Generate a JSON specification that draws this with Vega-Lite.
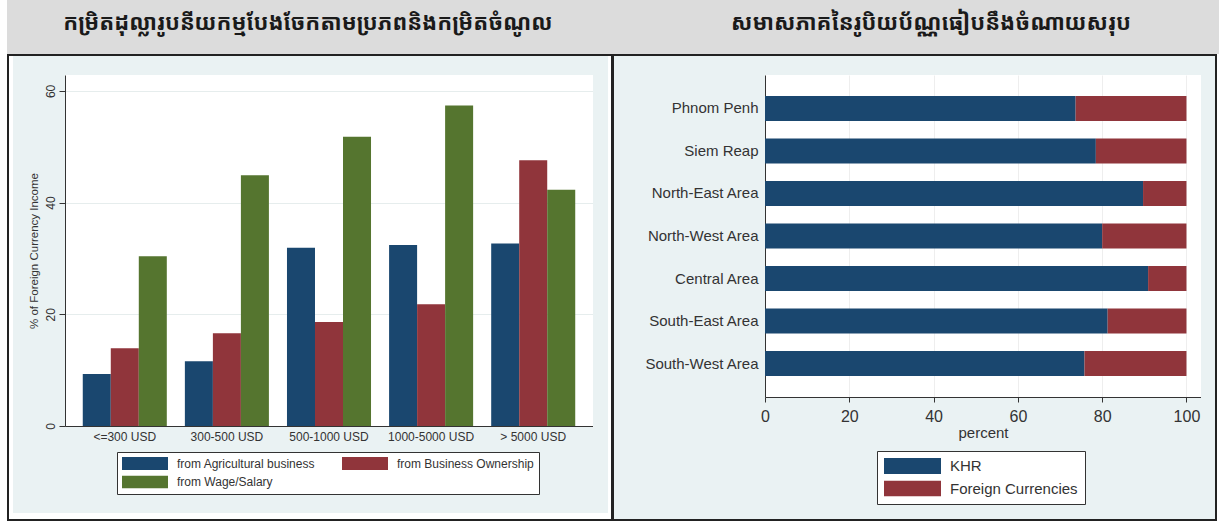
{
"$schema": "https://vega.github.io/schema/vega-lite/v6.json",
"padding": 0,
"background": "#eaf2f3",
"spacing": 0,
"bounds": "flush",
"align": "each",
"columns": 13,
"resolve": {"scale": {"x": "independent", "y": "independent", "color": "independent", "xOffset": "independent"}, "legend": {"color": "independent"}},
"config": {"view": {"stroke": null}, "font": "Liberation Sans"},
"concat": [
{"width":7,"height":54,"mark":{"type":"rule","opacity":0},"encoding":{},"view":{"fill":"#ffffff"}},
{"width":2,"height":54,"mark":{"type":"rule","opacity":0},"encoding":{},"view":{"fill":"#dcdcdc"}},
{"width":4,"height":54,"mark":{"type":"rule","opacity":0},"encoding":{},"view":{"fill":"#dcdcdc"}},
{"width":52,"height":54,"mark":{"type":"rule","opacity":0},"encoding":{},"view":{"fill":"#dcdcdc"}},
{"width":528,"height":54,"data":{"values":[{"t":"កម្រិតដុល្លារូបនីយកម្មបែងចែកតាមប្រភពនិងកម្រិតចំណូល"}]},"mark":{"type":"text","fontSize":22,"fontWeight":"bold","font":"Noto Sans Khmer, Khmer OS, Noto Sans, DejaVu Sans","color":"#1a1a1a","dx":-21,"dy":-4},"encoding":{"text":{"field":"t"}},"view":{"fill":"#dcdcdc"}},
{"width":15,"height":54,"mark":{"type":"rule","opacity":0},"encoding":{},"view":{"fill":"#dcdcdc"}},
{"width":3,"height":54,"mark":{"type":"rule","opacity":0},"encoding":{},"view":{"fill":"#dcdcdc"}},
{"width":3,"height":54,"mark":{"type":"rule","opacity":0},"encoding":{},"view":{"fill":"#dcdcdc"}},
{"width":151,"height":54,"mark":{"type":"rule","opacity":0},"encoding":{},"view":{"fill":"#dcdcdc"}},
{"width":436,"height":54,"data":{"values":[{"t":"សមាសភាគនៃរូបិយប័ណ្ណធៀបនឹងចំណាយសរុប"}]},"mark":{"type":"text","fontSize":22,"fontWeight":"bold","font":"Noto Sans Khmer, Khmer OS, Noto Sans, DejaVu Sans","color":"#1a1a1a","dx":-52,"dy":-4},"encoding":{"text":{"field":"t"}},"view":{"fill":"#dcdcdc"}},
{"width":14,"height":54,"mark":{"type":"rule","opacity":0},"encoding":{},"view":{"fill":"#dcdcdc"}},
{"width":2,"height":54,"mark":{"type":"rule","opacity":0},"encoding":{},"view":{"fill":"#dcdcdc"}},
{"width":2,"height":54,"mark":{"type":"rule","opacity":0},"encoding":{},"view":{"fill":"#dcdcdc"}},

{"width":7,"height":2,"mark":{"type":"rule","opacity":0},"encoding":{},"view":{"fill":"#ffffff"}},
{"width":2,"height":2,"mark":{"type":"rule","opacity":0},"encoding":{},"view":{"fill":"#222222"}},
{"width":4,"height":2,"mark":{"type":"rule","opacity":0},"encoding":{},"view":{"fill":"#222222"}},
{"width":52,"height":2,"mark":{"type":"rule","opacity":0},"encoding":{},"view":{"fill":"#222222"}},
{"width":528,"height":2,"mark":{"type":"rule","opacity":0},"encoding":{},"view":{"fill":"#222222"}},
{"width":15,"height":2,"mark":{"type":"rule","opacity":0},"encoding":{},"view":{"fill":"#222222"}},
{"width":3,"height":2,"mark":{"type":"rule","opacity":0},"encoding":{},"view":{"fill":"#222222"}},
{"width":3,"height":2,"mark":{"type":"rule","opacity":0},"encoding":{},"view":{"fill":"#222222"}},
{"width":151,"height":2,"mark":{"type":"rule","opacity":0},"encoding":{},"view":{"fill":"#222222"}},
{"width":436,"height":2,"mark":{"type":"rule","opacity":0},"encoding":{},"view":{"fill":"#222222"}},
{"width":14,"height":2,"mark":{"type":"rule","opacity":0},"encoding":{},"view":{"fill":"#222222"}},
{"width":2,"height":2,"mark":{"type":"rule","opacity":0},"encoding":{},"view":{"fill":"#222222"}},
{"width":2,"height":2,"mark":{"type":"rule","opacity":0},"encoding":{},"view":{"fill":"#ffffff"}},

{"width":7,"height":19,"mark":{"type":"rule","opacity":0},"encoding":{},"view":{"fill":"#ffffff"}},
{"width":2,"height":19,"mark":{"type":"rule","opacity":0},"encoding":{},"view":{"fill":"#222222"}},
{"width":4,"height":19,"mark":{"type":"rule","opacity":0},"encoding":{},"view":{"fill":"#ffffff"}},
{"width":52,"height":19,"mark":{"type":"rule","opacity":0},"encoding":{},"view":{"fill":"#eaf2f3"}},
{"width":528,"height":19,"mark":{"type":"rule","opacity":0},"encoding":{},"view":{"fill":"#eaf2f3"}},
{"width":15,"height":19,"mark":{"type":"rule","opacity":0},"encoding":{},"view":{"fill":"#eaf2f3"}},
{"width":3,"height":19,"mark":{"type":"rule","opacity":0},"encoding":{},"view":{"fill":"#ffffff"}},
{"width":3,"height":19,"mark":{"type":"rule","opacity":0},"encoding":{},"view":{"fill":"#222222"}},
{"width":151,"height":19,"mark":{"type":"rule","opacity":0},"encoding":{},"view":{"fill":"#eaf2f3"}},
{"width":436,"height":19,"mark":{"type":"rule","opacity":0},"encoding":{},"view":{"fill":"#eaf2f3"}},
{"width":14,"height":19,"mark":{"type":"rule","opacity":0},"encoding":{},"view":{"fill":"#eaf2f3"}},
{"width":2,"height":19,"mark":{"type":"rule","opacity":0},"encoding":{},"view":{"fill":"#222222"}},
{"width":2,"height":19,"mark":{"type":"rule","opacity":0},"encoding":{},"view":{"fill":"#ffffff"}},

{"width":7,"height":438,"mark":{"type":"rule","opacity":0},"encoding":{},"view":{"fill":"#ffffff"}},
{"width":2,"height":438,"mark":{"type":"rule","opacity":0},"encoding":{},"view":{"fill":"#222222"}},
{"width":4,"height":438,"mark":{"type":"rule","opacity":0},"encoding":{},"view":{"fill":"#ffffff"}},
{"width":52,"height":438,"mark":{"type":"rule","opacity":0},"encoding":{},"view":{"fill":"#eaf2f3"}},
{
 "width": 528, "height": 351,
 "view": {"fill": "#ffffff"},
 "data": {"values": [
  {"income": "<=300 USD", "source": "from Agricultural business", "pct": 9.3},
  {"income": "<=300 USD", "source": "from Business Ownership", "pct": 13.9},
  {"income": "<=300 USD", "source": "from Wage/Salary", "pct": 30.4},
  {"income": "300-500 USD", "source": "from Agricultural business", "pct": 11.6},
  {"income": "300-500 USD", "source": "from Business Ownership", "pct": 16.6},
  {"income": "300-500 USD", "source": "from Wage/Salary", "pct": 44.9},
  {"income": "500-1000 USD", "source": "from Agricultural business", "pct": 31.9},
  {"income": "500-1000 USD", "source": "from Business Ownership", "pct": 18.6},
  {"income": "500-1000 USD", "source": "from Wage/Salary", "pct": 51.8},
  {"income": "1000-5000 USD", "source": "from Agricultural business", "pct": 32.4},
  {"income": "1000-5000 USD", "source": "from Business Ownership", "pct": 21.8},
  {"income": "1000-5000 USD", "source": "from Wage/Salary", "pct": 57.4},
  {"income": "> 5000 USD", "source": "from Agricultural business", "pct": 32.7},
  {"income": "> 5000 USD", "source": "from Business Ownership", "pct": 47.6},
  {"income": "> 5000 USD", "source": "from Wage/Salary", "pct": 42.3}
 ]},
 "mark": {"type": "bar"},
 "encoding": {
  "x": {"field": "income", "type": "nominal", "sort": ["<=300 USD","300-500 USD","500-1000 USD","1000-5000 USD","> 5000 USD"],
        "scale": {"paddingInner": 0.177, "paddingOuter": 0.174},
        "axis": {"title": null, "labelAngle": 0, "ticks": false, "labelFontSize": 12, "labelColor": "#333333", "domainColor": "#333333", "labelPadding": 5, "grid": false}},
  "xOffset": {"field": "source", "type": "nominal", "sort": ["from Agricultural business","from Business Ownership","from Wage/Salary"], "scale": {"paddingInner": 0, "paddingOuter": 0}},
  "y": {"field": "pct", "type": "quantitative", "scale": {"domain": [0, 62.85], "nice": false},
        "axis": {"values": [0,20,40,60], "title": "% of Foreign Currency Income", "titleFontSize": 11.5, "titleFontWeight": "normal", "titleColor": "#333333", "titlePadding": 5,
                 "labelAngle": -90, "labelAlign": "center", "labelBaseline": "bottom", "labelFontSize": 12, "labelPadding": 2, "labelColor": "#333333",
                 "tickSize": 6, "tickColor": "#333333", "domainColor": "#333333", "gridColor": "#e6eded"}},
  "color": {"field": "source", "type": "nominal",
            "scale": {"domain": ["from Agricultural business","from Business Ownership","from Wage/Salary"], "range": ["#1a476f","#90353b","#55752f"]},
            "legend": {"orient": "none", "legendX": 52, "legendY": 377, "direction": "horizontal", "columns": 2, "title": null,
                       "symbolType": "M-1,-0.283H1V0.283H-1Z", "symbolSize": 2116, "symbolStrokeWidth": 0, "symbolOpacity": 1,
                       "clipHeight": 13, "rowPadding": 5.5, "columnPadding": 26, "labelFontSize": 12, "labelColor": "#333333", "labelOffset": 9, "labelLimit": 300,
                       "padding": 5, "fillColor": "#ffffff", "strokeColor": "#333333"}}
 }
},
{"width":15,"height":438,"mark":{"type":"rule","opacity":0},"encoding":{},"view":{"fill":"#eaf2f3"}},
{"width":3,"height":438,"mark":{"type":"rule","opacity":0},"encoding":{},"view":{"fill":"#ffffff"}},
{"width":3,"height":438,"mark":{"type":"rule","opacity":0},"encoding":{},"view":{"fill":"#222222"}},
{"width":151,"height":438,"mark":{"type":"rule","opacity":0},"encoding":{},"view":{"fill":"#eaf2f3"}},
{
 "width": 436, "height": 322,
 "view": {"fill": "#ffffff"},
 "data": {"values": [
  {"region": "Phnom Penh", "currency": "KHR", "share": 73.7},
  {"region": "Phnom Penh", "currency": "Foreign Currencies", "share": 26.3},
  {"region": "Siem Reap", "currency": "KHR", "share": 78.5},
  {"region": "Siem Reap", "currency": "Foreign Currencies", "share": 21.5},
  {"region": "North-East Area", "currency": "KHR", "share": 89.7},
  {"region": "North-East Area", "currency": "Foreign Currencies", "share": 10.3},
  {"region": "North-West Area", "currency": "KHR", "share": 80.0},
  {"region": "North-West Area", "currency": "Foreign Currencies", "share": 20.0},
  {"region": "Central Area", "currency": "KHR", "share": 90.9},
  {"region": "Central Area", "currency": "Foreign Currencies", "share": 9.1},
  {"region": "South-East Area", "currency": "KHR", "share": 81.3},
  {"region": "South-East Area", "currency": "Foreign Currencies", "share": 18.7},
  {"region": "South-West Area", "currency": "KHR", "share": 75.8},
  {"region": "South-West Area", "currency": "Foreign Currencies", "share": 24.2}
 ]},
 "mark": {"type": "bar"},
 "encoding": {
  "y": {"field": "region", "type": "nominal", "sort": ["Phnom Penh","Siem Reap","North-East Area","North-West Area","Central Area","South-East Area","South-West Area"],
        "scale": {"paddingInner": 0.4125, "paddingOuter": 0.494},
        "axis": {"title": null, "ticks": false, "labelFontSize": 15, "labelColor": "#333333", "labelPadding": 7, "domainColor": "#333333", "grid": false, "labelLimit": 250}},
  "x": {"field": "share", "type": "quantitative", "stack": "zero", "scale": {"domain": [0, 103.45], "nice": false},
        "axis": {"values": [0,20,40,60,80,100], "title": "percent", "titleFontSize": 15, "titleFontWeight": "normal", "titleColor": "#333333", "titlePadding": 1,
                 "labelFontSize": 16, "labelColor": "#333333", "labelFlush": false, "labelPadding": 6, "tickSize": 5, "tickColor": "#333333", "domainColor": "#333333", "grid": true, "gridColor": "#eeeeee"}},
  "color": {"field": "currency", "type": "nominal",
            "scale": {"domain": ["KHR","Foreign Currencies"], "range": ["#1a476f","#90353b"]},
            "legend": {"orient": "none", "legendX": 112, "legendY": 376, "direction": "vertical", "title": null,
                       "symbolType": "M-1,-0.28H1V0.28H-1Z", "symbolSize": 3249, "symbolStrokeWidth": 0, "symbolOpacity": 1,
                       "clipHeight": 16, "rowPadding": 6.6, "labelFontSize": 15, "labelColor": "#333333", "labelOffset": 9, "labelLimit": 300,
                       "padding": 7, "fillColor": "#ffffff", "strokeColor": "#333333"}},
  "order": {"field": "currency", "sort": "descending"}
 }
},
{"width":14,"height":438,"mark":{"type":"rule","opacity":0},"encoding":{},"view":{"fill":"#eaf2f3"}},
{"width":2,"height":438,"mark":{"type":"rule","opacity":0},"encoding":{},"view":{"fill":"#222222"}},
{"width":2,"height":438,"mark":{"type":"rule","opacity":0},"encoding":{},"view":{"fill":"#ffffff"}},

{"width":7,"height":6,"mark":{"type":"rule","opacity":0},"encoding":{},"view":{"fill":"#ffffff"}},
{"width":2,"height":6,"mark":{"type":"rule","opacity":0},"encoding":{},"view":{"fill":"#222222"}},
{"width":4,"height":6,"mark":{"type":"rule","opacity":0},"encoding":{},"view":{"fill":"#ffffff"}},
{"width":52,"height":6,"mark":{"type":"rule","opacity":0},"encoding":{},"view":{"fill":"#ffffff"}},
{"width":528,"height":6,"mark":{"type":"rule","opacity":0},"encoding":{},"view":{"fill":"#ffffff"}},
{"width":15,"height":6,"mark":{"type":"rule","opacity":0},"encoding":{},"view":{"fill":"#ffffff"}},
{"width":3,"height":6,"mark":{"type":"rule","opacity":0},"encoding":{},"view":{"fill":"#ffffff"}},
{"width":3,"height":6,"mark":{"type":"rule","opacity":0},"encoding":{},"view":{"fill":"#222222"}},
{"width":151,"height":6,"mark":{"type":"rule","opacity":0},"encoding":{},"view":{"fill":"#eaf2f3"}},
{"width":436,"height":6,"mark":{"type":"rule","opacity":0},"encoding":{},"view":{"fill":"#eaf2f3"}},
{"width":14,"height":6,"mark":{"type":"rule","opacity":0},"encoding":{},"view":{"fill":"#eaf2f3"}},
{"width":2,"height":6,"mark":{"type":"rule","opacity":0},"encoding":{},"view":{"fill":"#222222"}},
{"width":2,"height":6,"mark":{"type":"rule","opacity":0},"encoding":{},"view":{"fill":"#ffffff"}},

{"width":7,"height":2,"mark":{"type":"rule","opacity":0},"encoding":{},"view":{"fill":"#ffffff"}},
{"width":2,"height":2,"mark":{"type":"rule","opacity":0},"encoding":{},"view":{"fill":"#222222"}},
{"width":4,"height":2,"mark":{"type":"rule","opacity":0},"encoding":{},"view":{"fill":"#222222"}},
{"width":52,"height":2,"mark":{"type":"rule","opacity":0},"encoding":{},"view":{"fill":"#222222"}},
{"width":528,"height":2,"mark":{"type":"rule","opacity":0},"encoding":{},"view":{"fill":"#222222"}},
{"width":15,"height":2,"mark":{"type":"rule","opacity":0},"encoding":{},"view":{"fill":"#222222"}},
{"width":3,"height":2,"mark":{"type":"rule","opacity":0},"encoding":{},"view":{"fill":"#222222"}},
{"width":3,"height":2,"mark":{"type":"rule","opacity":0},"encoding":{},"view":{"fill":"#222222"}},
{"width":151,"height":2,"mark":{"type":"rule","opacity":0},"encoding":{},"view":{"fill":"#222222"}},
{"width":436,"height":2,"mark":{"type":"rule","opacity":0},"encoding":{},"view":{"fill":"#222222"}},
{"width":14,"height":2,"mark":{"type":"rule","opacity":0},"encoding":{},"view":{"fill":"#222222"}},
{"width":2,"height":2,"mark":{"type":"rule","opacity":0},"encoding":{},"view":{"fill":"#222222"}},
{"width":2,"height":2,"mark":{"type":"rule","opacity":0},"encoding":{},"view":{"fill":"#ffffff"}},

{"width":7,"height":3,"mark":{"type":"rule","opacity":0},"encoding":{},"view":{"fill":"#ffffff"}},
{"width":2,"height":3,"mark":{"type":"rule","opacity":0},"encoding":{},"view":{"fill":"#ffffff"}},
{"width":4,"height":3,"mark":{"type":"rule","opacity":0},"encoding":{},"view":{"fill":"#ffffff"}},
{"width":52,"height":3,"mark":{"type":"rule","opacity":0},"encoding":{},"view":{"fill":"#ffffff"}},
{"width":528,"height":3,"mark":{"type":"rule","opacity":0},"encoding":{},"view":{"fill":"#ffffff"}},
{"width":15,"height":3,"mark":{"type":"rule","opacity":0},"encoding":{},"view":{"fill":"#ffffff"}},
{"width":3,"height":3,"mark":{"type":"rule","opacity":0},"encoding":{},"view":{"fill":"#ffffff"}},
{"width":3,"height":3,"mark":{"type":"rule","opacity":0},"encoding":{},"view":{"fill":"#ffffff"}},
{"width":151,"height":3,"mark":{"type":"rule","opacity":0},"encoding":{},"view":{"fill":"#ffffff"}},
{"width":436,"height":3,"mark":{"type":"rule","opacity":0},"encoding":{},"view":{"fill":"#ffffff"}},
{"width":14,"height":3,"mark":{"type":"rule","opacity":0},"encoding":{},"view":{"fill":"#ffffff"}},
{"width":2,"height":3,"mark":{"type":"rule","opacity":0},"encoding":{},"view":{"fill":"#ffffff"}},
{"width":2,"height":3,"mark":{"type":"rule","opacity":0},"encoding":{},"view":{"fill":"#ffffff"}}
]
}
